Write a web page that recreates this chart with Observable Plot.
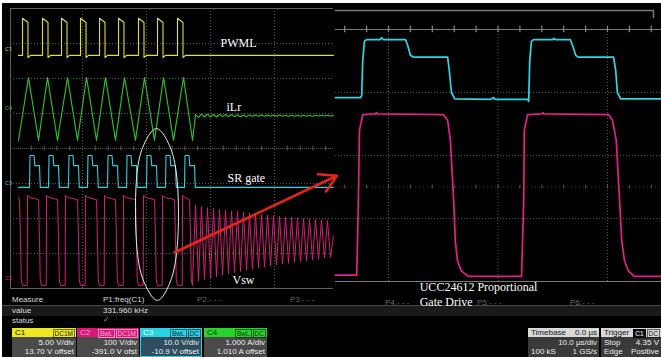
<!DOCTYPE html>
<html><head><meta charset="utf-8">
<script src="https://cdn.jsdelivr.net/npm/d3@7"></script>
<script src="https://cdn.jsdelivr.net/npm/@observablehq/plot@0.6"></script>
<style>
html,body{margin:0;padding:0;background:#fff;}
#wrap{position:relative;width:661px;height:357px;overflow:hidden;background:#fff;font-family:"Liberation Sans",Arial,sans-serif;}
#scope{position:absolute;left:2px;top:3px;width:659px;height:354px;background:#000;}
.layer{position:absolute;left:0;top:0;pointer-events:none;}
.t{position:absolute;font-size:8px;line-height:9px;color:#dcdcdc;white-space:nowrap;}
.g{color:#6a6a6a;}
.band{position:absolute;left:2px;width:659px;top:305px;height:10px;background:#1b1b1b;border-top:1px solid #4a4a4a;}
.box{position:absolute;top:328px;height:29px;overflow:hidden;}
.hd{position:relative;height:9px;font-size:8px;line-height:9px;padding-left:3px;}
.tags{position:absolute;right:1px;top:0.5px;display:flex;gap:1px;}
.tag{font-size:6.5px;line-height:7px;padding:0 1px;border:1px solid rgba(0,0,0,.55);}
.bd{height:20px;background:#4a4a4a;color:#eee;font-size:8px;line-height:9px;text-align:right;padding:1px 2px 0 0;box-sizing:border-box;}
.row{display:flex;justify-content:space-between;padding-left:3px;}
</style></head>
<body>
<div id="wrap">
  <div id="scope"></div>
  <div class="band"></div>
  <div class="t" style="left:12px;top:295px">Measure</div>
  <div class="t" style="left:103px;top:295px">P1:freq(C1)</div>
  <div class="t g" style="left:197px;top:295px">P2:- - -</div>
  <div class="t g" style="left:290px;top:295px">P3:- - -</div>
  <div class="t g" style="left:385px;top:298px">P4:- - -</div>
  <div class="t g" style="left:477px;top:298px">P5:- - -</div>
  <div class="t g" style="left:570px;top:298px">P6:- - -</div>
  <div class="t" style="left:12px;top:306px">value</div>
  <div class="t" style="left:103px;top:306px">331.960 kHz</div>
  <div class="t" style="left:12px;top:316px">status</div>
  <div class="t" style="left:103px;top:315px;color:#3fd03f;font-family:'DejaVu Sans';font-size:8px">✓</div>

  <div class="box" style="left:12px;width:64px">
    <div class="hd" style="background:#ece821;color:#111">C1<div class="tags"><span class="tag">DC1M</span></div></div>
    <div class="bd">5.00 V/div<br>13.70 V offset</div>
  </div>
  <div class="box" style="left:77px;width:62px">
    <div class="hd" style="background:#d8177a;color:#f7a6cf">C2<div class="tags"><span class="tag" style="border-color:#f58cc0;color:#f9b8d8">BwL</span><span class="tag" style="border-color:#f58cc0;color:#f9b8d8">DC1M</span></div></div>
    <div class="bd">100 V/div<br>-391.0 V ofst</div>
  </div>
  <div class="box" style="left:140px;width:62px">
    <div class="hd" style="background:#27d3e2;color:#f4ffff">C3<div class="tags"><span class="tag" style="color:#123">BwL</span><span class="tag" style="color:#123">DC</span></div></div>
    <div class="bd" style="background:#2e4d5e;border:1px solid #27d3e2;border-top:none">10.0 V/div<br>-10.9 V offset</div>
  </div>
  <div class="box" style="left:204px;width:63px">
    <div class="hd" style="background:#27d42a;color:#113311">C4<div class="tags"><span class="tag" style="color:#113311">BwL</span><span class="tag" style="color:#113311">DC</span></div></div>
    <div class="bd">1.000 A/div<br>1.010 A offset</div>
  </div>
  <div class="box" style="left:528px;width:71px">
    <div class="hd row" style="background:#d8d8d8;color:#111;padding-right:2px">Timebase<span>0.0 µs</span></div>
    <div class="bd" style="background:#3a3a3a">10.0 µs/div<div class="row">100 kS<span>1 GS/s</span></div></div>
  </div>
  <div class="box" style="left:601px;width:60px">
    <div class="hd" style="background:#d8d8d8;color:#111">Trigger<div class="tags"><span class="tag" style="background:#111;color:#fff">C1</span><span class="tag">DC</span></div></div>
    <div class="bd" style="background:#3a3a3a"><div class="row">Stop<span>4.35 V</span></div><div class="row">Edge<span>Positive</span></div></div>
  </div>
</div>
<script>
// ===== Left screen: time in µs (10 µs/div), level in divisions from screen centre =====
const tMin = -1.25, tMax = 49.2;
const pwmlRise = [0.63, 3.75, 6.72, 9.69, 12.66, 15.63, 18.75, 21.72, 24.84];
const pwmlFall = [1.48, 4.61, 7.58, 10.55, 13.52, 16.48, 19.61, 22.58, 25.70];
const pwmlLow = 2.66, pwmlHighStart = 3.72, pwmlHighEnd = 3.6, pwmlDip = 2.6;

const ilrTroughT = [0, 3.13, 6.09, 9.22, 12.19, 15.16, 18.28, 21.25, 24.22];
const ilrPeakT   = [1.56, 4.53, 7.66, 10.63, 13.59, 16.56, 19.69, 22.66, 25.78];
const ilrPeak = 2.03, ilrTrough = 0.23;

const srRise = [1.72, 4.69, 7.81, 10.78, 13.91, 16.88, 20.0, 22.97, 25.94];
const srStep = [2.42, 5.39, 8.51, 11.48, 14.61, 17.58, 20.70, 23.67, 26.64];
const srFall = [3.28, 6.25, 9.37, 12.34, 15.47, 18.44, 21.56, 24.53, 27.5];
const srBase = -1.11, srTop = -0.2, srMid = -0.49;

const vswFall = [0.31, 3.28, 6.25, 9.38, 12.34, 15.31, 18.44, 21.41, 24.53, 26.88];
const vswRise = [1.41, 4.38, 7.34, 10.47, 13.44, 16.41, 19.53, 22.5, 25.63];
const vswHigh = -1.4, vswLow = -3.91;

// ringing after the burst stops (extremes)
const ringT = [27.19, 27.66, 28.13, 28.59, 29.06, 29.53, 30.0, 30.47, 30.94, 31.41, 31.88, 32.34,
  32.81, 33.28, 33.75, 34.22, 34.69, 35.16, 35.63, 36.09, 36.56, 37.03, 37.5, 37.97, 38.44, 38.91,
  39.38, 39.84, 40.31, 40.78, 41.25, 41.72, 42.19, 42.66, 43.13, 43.59, 44.06, 44.53, 45.0, 45.47,
  45.94, 46.41, 46.88, 47.34, 47.81, 48.28, 48.75, 49.2];
const vswRing = [-3.83, -1.63, -3.79, -1.66, -3.74, -1.69, -3.70, -1.71, -3.66, -1.74, -3.62, -1.76,
  -3.58, -1.78, -3.55, -1.80, -3.51, -1.82, -3.48, -1.84, -3.45, -1.86, -3.42, -1.88, -3.39, -1.90,
  -3.36, -1.92, -3.33, -1.93, -3.30, -1.95, -3.28, -1.97, -3.25, -1.98, -3.23, -2.00, -3.20, -2.01,
  -3.18, -2.03, -3.16, -2.04, -3.13, -2.06, -3.11, -2.5];
const ilrRipple = [0.23, 0.97, 0.89, 0.98, 0.90, 0.98, 0.90, 0.97, 0.90, 0.97, 0.91, 0.97,
  0.91, 0.97, 0.91, 0.96, 0.91, 0.96, 0.91, 0.96, 0.92, 0.96, 0.92, 0.96, 0.92, 0.96,
  0.92, 0.96, 0.92, 0.96, 0.92, 0.95, 0.92, 0.95, 0.92, 0.95, 0.92, 0.95, 0.92, 0.95,
  0.92, 0.95, 0.93, 0.95, 0.93, 0.95, 0.93, 0.94];

const leftGridT = [10, 20, 30, 40];
const leftGridV = [-3, -2, -1, 1, 2, 3];
const leftMinorT = [2,4,6,8,12,14,16,18,22,24,26,28,32,34,36,38,42,44,46,48];

// annotations on left screen
const ellipseT = [21.56, 23.91, 25.0, 23.91, 21.72, 19.38, 18.28, 19.22];
const ellipseV = [0.57, -0.06, -1.89, -3.71, -4.34, -3.71, -1.89, -0.06];
const arrowFrom = {t: 24.38, v: -2.97}, arrowTo = {t: 49.75, v: -0.78};
const leftLabels = ["PWML", "iLr", "SR gate", "Vsw"];
const leftLabelT = [31.56, 32.5, 32.66, 33.44];
const leftLabelV = [3.01, 1.17, -0.86, -3.76];
const chanTags = ["C1", "C4", "C3", "C2"];
const chanTagV = [2.83, 1.15, -0.98, -3.7];
const chanColors = ["#e2dc3c", "#2bc42b", "#2ed3e0", "#d81e78"];

// ===== Right screen (zoom): time in µs, level in divisions =====
const rCyanT = [-0.97, -0.51, -0.49, -0.47, -0.44, -0.40, -0.15, -0.13, -0.09, 0.31, 0.35, 0.40, 0.46,
  1.08, 1.11, 1.15, 1.21, 1.86, 1.92, 1.95, 2.54, 2.56, 2.58, 2.61, 2.65, 3.0, 3.02, 3.05, 3.32, 3.36, 3.42,
  3.47, 4.11, 4.15, 4.18, 4.24, 4.99];
const rCyanV = [0.92, 0.92, 0.95, 1.51, 1.81, 1.84, 1.84, 1.87, 1.84, 1.84, 1.75, 1.59, 1.56,
  1.56, 1.35, 1.00, 0.90, 0.89, 0.92, 0.89, 0.89, 0.86, 1.51, 1.81, 1.84, 1.84, 1.86, 1.84, 1.84, 1.75, 1.59,
  1.56, 1.56, 1.35, 1.00, 0.90, 0.90];
const rMagT = [-0.97, -0.58, -0.55, -0.53, -0.47, -0.24, -0.22, -0.20, 1.00, 1.08, 1.13, 1.19, 1.22, 1.26,
  1.33, 1.46, 2.43, 2.47, 2.48, 2.54, 2.80, 2.82, 2.84, 4.02, 4.09, 4.16, 4.22, 4.26, 4.31, 4.38, 4.49, 4.99];
const rMagV = [-1.90, -1.90, -0.71, 0.40, 0.65, 0.66, 0.68, 0.66, 0.65, 0.56, 0.24, -0.71, -1.35, -1.67,
  -1.83, -1.92, -1.92, -0.71, 0.40, 0.65, 0.66, 0.68, 0.66, 0.65, 0.56, 0.24, -0.71, -1.35, -1.67, -1.83, -1.92, -1.92];
const rGridT = [0, 2, 4];
const rGridV = [1, 0, -1];
const rMinorT = [-0.8,-0.4,0,0.4,0.8,1.2,1.6,2.0,2.4,2.8,3.2,3.6,4.0,4.4,4.8];
const rLabels = ["UCC24612 Proportional", "Gate Drive"];
const rLabelV = [-2.09, -2.33];
const rLabelT = 0.57;

// ===== build traces =====
const pwml = [{t: 0, v: pwmlLow}];
pwmlRise.forEach((r, i) => {
  const f = pwmlFall[i];
  pwml.push({t: r, v: pwmlLow}, {t: r, v: pwmlHighStart}, {t: f, v: pwmlHighEnd}, {t: f, v: pwmlDip}, {t: f + 0.4, v: pwmlLow});
});
pwml.push({t: tMax, v: pwmlLow});

const ilr = [];
ilrTroughT.forEach((t, i) => { ilr.push({t, v: ilrTrough}, {t: ilrPeakT[i], v: ilrPeak}); });
ringT.forEach((t, i) => ilr.push({t, v: ilrRipple[i]}));

const sr = [{t: 0, v: srBase}];
srRise.forEach((r, i) => {
  sr.push({t: r, v: srBase}, {t: r + 0.08, v: srTop}, {t: srStep[i], v: srTop}, {t: srStep[i] + 0.12, v: srMid},
          {t: srFall[i], v: srMid}, {t: srFall[i] + 0.12, v: srBase});
});
sr.push({t: tMax, v: srBase});

const vsw = [{t: 0, v: vswHigh}];
vswFall.forEach((f, i) => {
  vsw.push({t: f - 0.15, v: vswHigh - 0.06}, {t: f, v: -2.6}, {t: f + 0.12, v: -3.75}, {t: f + 0.3, v: vswLow});
  if (i < vswRise.length) vsw.push({t: vswRise[i] - 0.05, v: vswLow}, {t: vswRise[i], v: vswHigh + 0.06}, {t: vswRise[i] + 0.4, v: vswHigh});
});
ringT.forEach((t, i) => vsw.push({t, v: vswRing[i]}));

const ellipse = ellipseT.map((t, i) => ({t, v: ellipseV[i]}));
const labs = leftLabels.map((s, i) => ({s, t: leftLabelT[i], v: leftLabelV[i]}));
const tags = chanTags.map((s, i) => ({s, v: chanTagV[i], c: chanColors[i]}));

const rCyan = rCyanT.map((t, i) => ({t, v: rCyanV[i]}));
const rMag = rMagT.map((t, i) => ({t, v: rMagV[i]}));
const rLabs = rLabels.map((s, i) => ({s, v: rLabelV[i]}));

const grid = "#585858";
const leftPlot = Plot.plot({
  width: 661, height: 357, margin: 0,
  style: {background: "transparent", overflow: "visible"},
  x: {domain: [0, 100], range: [18, 658], axis: null},
  y: {domain: [-4, 4], range: [288, 8], axis: null},
  marks: [
    Plot.ruleX(leftGridT, {y1: -4, y2: 4, stroke: grid, strokeDasharray: "1,2"}),
    Plot.ruleY(leftGridV, {x1: tMin, x2: tMax, stroke: grid, strokeDasharray: "1,2"}),
    Plot.ruleY([0], {x1: tMin, x2: tMax, stroke: grid, strokeDasharray: "1,1"}),
    Plot.ruleX(leftMinorT, {y1: -0.07, y2: 0.07, stroke: grid}),
    Plot.ruleY([4, -4], {x1: tMin, x2: tMax, stroke: "#606060"}),
    Plot.ruleX([tMin], {y1: -4, y2: 4, stroke: "#606060"}),
    Plot.line(pwml, {x: "t", y: "v", stroke: chanColors[0], strokeWidth: 1.1}),
    Plot.line(ilr, {x: "t", y: "v", stroke: chanColors[1], strokeWidth: 1.1}),
    Plot.line(sr, {x: "t", y: "v", stroke: chanColors[2], strokeWidth: 1.1}),
    Plot.line(vsw, {x: "t", y: "v", stroke: chanColors[3], strokeWidth: 1.0}),
    Plot.text(tags, {x: -2.1, y: "v", text: "s", fill: "c", fontSize: 6, textAnchor: "start"}),
    Plot.text(labs, {x: "t", y: "v", text: "s", fill: "#fff", fontSize: 12, fontFamily: "Liberation Serif", textAnchor: "start"}),
    Plot.line(ellipse, {x: "t", y: "v", stroke: "#e8e8e8", strokeWidth: 1, curve: "catmull-rom-closed"}),
    Plot.arrow([0], {x1: arrowFrom.t, y1: arrowFrom.v, x2: arrowTo.t, y2: arrowTo.v, stroke: "#e8231b", strokeWidth: 2.6, headLength: 11})
  ]
});

const rightPlot = Plot.plot({
  width: 661, height: 357, margin: 0,
  style: {background: "transparent", overflow: "visible"},
  x: {domain: [0, 4], range: [388, 607], axis: null},
  y: {domain: [-2, 2], range: [281, 29], axis: null},
  marks: [
    Plot.ruleX(rGridT, {y1: -2, y2: 2, stroke: grid, strokeDasharray: "1,2"}),
    Plot.ruleY(rGridV, {x1: -0.97, x2: 4.99, stroke: grid, strokeDasharray: "1,2"}),
    Plot.ruleY([-0.5], {x1: -0.97, x2: 4.99, stroke: "#3c3c3c", strokeDasharray: "1,3"}),
    Plot.ruleX(rMinorT, {y1: -0.53, y2: -0.47, stroke: grid}),
    Plot.ruleY([2, -2], {x1: -0.97, x2: 4.99, stroke: "#7a7a7a", strokeWidth: 1.2}),
    Plot.ruleX(rMinorT, {y1: 1.95, y2: 2.05, stroke: "#8a8a8a", strokeWidth: 1.2}),
    Plot.line([{t: -0.97, v: 2.3}, {t: 4.84, v: 2.3}, {t: 4.84, v: 2.19}], {x: "t", y: "v", stroke: "#7a7a7a"}),
    Plot.line(rCyan, {x: "t", y: "v", stroke: "#2fd6e2", strokeWidth: 1.7}),
    Plot.line(rMag, {x: "t", y: "v", stroke: "#e4208a", strokeWidth: 1.7}),
    Plot.text(rLabs, {x: rLabelT, y: "v", text: "s", fill: "#fff", fontSize: 12, fontFamily: "Liberation Serif", textAnchor: "start"})
  ]
});

for (const p of [leftPlot, rightPlot]) {
  p.classList.add("layer");
  p.style.position = "absolute"; p.style.left = "0px"; p.style.top = "0px";
  document.getElementById("wrap").appendChild(p);
}
</script>
</body></html>
